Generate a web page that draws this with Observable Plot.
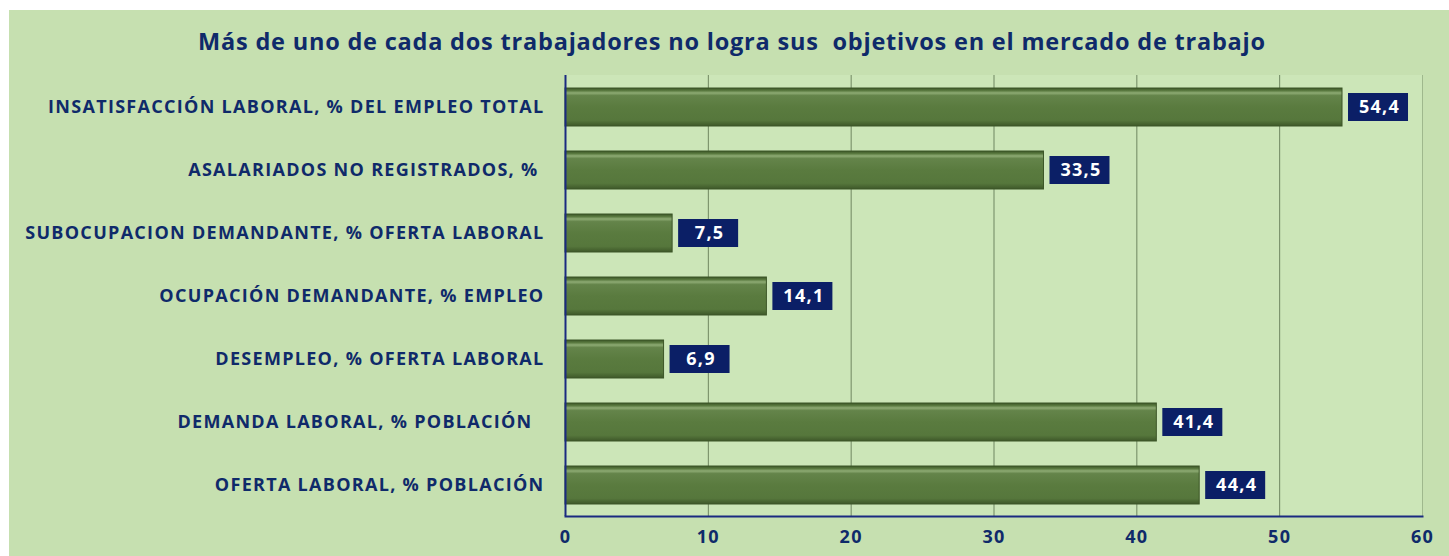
<!DOCTYPE html>
<html>
<head>
<meta charset="utf-8">
<script src="https://cdn.jsdelivr.net/npm/d3@7"></script>
<script src="https://cdn.jsdelivr.net/npm/@observablehq/plot@0.6"></script>
<style>
  html, body { margin: 0; padding: 0; background: #ffffff; }
  #wrap { position: absolute; left: 9px; top: 10px; width: 1440px; height: 546px; background: #c6e0b0; overflow: hidden; }
  #title { height: 45px; line-height: 62px; text-align: center; font-family: "Open Sans", sans-serif; font-weight: 700; font-size: 23.5px; letter-spacing: 0.8px; color: #0f2a6a; white-space: pre; padding-left: 6px; }
  svg { display: block; }
</style>
</head>
<body>
<div id="wrap">
  <div id="title">Más de uno de cada dos trabajadores no logra sus  objetivos en el mercado de trabajo</div>
  <div id="chart"></div>
</div>
<script>
const categories = [
  "INSATISFACCIÓN LABORAL, % DEL EMPLEO TOTAL",
  "ASALARIADOS NO REGISTRADOS, %\u00a0",
  "SUBOCUPACION DEMANDANTE, % OFERTA LABORAL",
  "OCUPACIÓN DEMANDANTE, % EMPLEO",
  "DESEMPLEO, % OFERTA LABORAL",
  "DEMANDA LABORAL, % POBLACIÓN\u00a0\u00a0",
  "OFERTA LABORAL, % POBLACIÓN"
];
const values = [54.4, 33.5, 7.5, 14.1, 6.9, 41.4, 44.4];
const xTicks = [0, 10, 20, 30, 40, 50, 60];
const gridTicks = [10, 20, 30, 40, 50];

const navy = "#0f2a6a";
const data = categories.map((c, i) => ({ cat: c, value: values[i], label: values[i].toFixed(1).replace(".", ",") }));

const plot = Plot.plot({
  width: 1440,
  height: 501,
  marginLeft: 556,
  marginRight: 27,
  marginTop: 20,
  marginBottom: 40,
  style: { background: "transparent", fontFamily: "'Open Sans', sans-serif", fontWeight: 700, fontSize: "18px", letterSpacing: "1.3px", color: navy },
  x: { domain: [0, 60], ticks: xTicks, tickSize: 0, tickPadding: 14, label: null, tickFormat: d => String(d) },
  y: { domain: categories, paddingInner: 0.4, paddingOuter: 0.2, tickSize: 0, tickPadding: 21, label: null },
  marks: [
    Plot.rect([{}], { x1: 0, x2: 60, fill: "#cce6b8" }),
    Plot.ruleX(gridTicks, { stroke: "#6f8660", strokeWidth: 1 }),
    Plot.ruleX([60], { stroke: "#9fb88d", strokeWidth: 1 }),
    Plot.barX(data, { y: "cat", x: "value", fill: "url(#barGrad)", stroke: "#3d5628", strokeWidth: 1 }),
    Plot.barX(data, { y: "cat", x1: "value", x2: "value", dx: 6, insetRight: -60, insetTop: 5, insetBottom: 5, fill: "#0b1f66" }),
    Plot.text(data, { y: "cat", x: "value", text: "label", dx: 37, fill: "white", fontWeight: 700, fontSize: 18, textAnchor: "middle" }),
    Plot.ruleX([0], { stroke: "#1a2a80", strokeWidth: 2 }),
    Plot.frame({ anchor: "bottom", stroke: "#1a2a80", strokeWidth: 2 })
  ]
});

const defs = d3.select(plot).insert("defs", ":first-child");
const g = defs.append("linearGradient").attr("id", "barGrad").attr("x1", 0).attr("y1", 0).attr("x2", 0).attr("y2", 1);
[[0, "#3b5526"], [0.07, "#5a7a40"], [0.13, "#8eab74"], [0.2, "#64844a"], [0.5, "#5a7b3f"], [0.85, "#56773c"], [1, "#3e5829"]]
  .forEach(([o, c]) => g.append("stop").attr("offset", o).attr("stop-color", c));

document.getElementById("chart").appendChild(plot);
</script>
</body>
</html>
